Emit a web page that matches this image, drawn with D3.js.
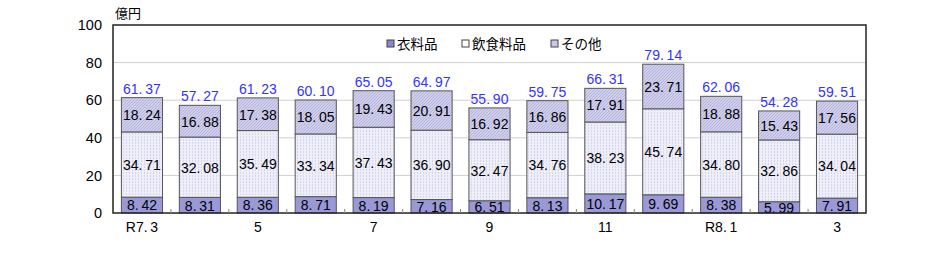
<!DOCTYPE html>
<html>
<head>
<meta charset="utf-8">
<script src="https://cdn.jsdelivr.net/npm/d3@7"></script>
<style>
  body { margin: 0; background: #fff; }
  text { font-family: "Noto Sans CJK JP", "DejaVu Sans", sans-serif; }
  .num { font-family: "Liberation Sans", Arial, sans-serif; }
</style>
</head>
<body>
<div class="chart"></div>
<script>
// months (R7.3 - R8.3)
const months = ["R7.3", "4", "5", "6", "7", "8", "9", "10", "11", "12", "R8.1", "2", "3"];
const shownLabels = ["R7.\u20093", "", "5", "", "7", "", "9", "", "11", "", "R8.\u20091", "", "3"];
const clothing = [8.42, 8.31, 8.36, 8.71, 8.19, 7.16, 6.51, 8.13, 10.17, 9.69, 8.38, 5.99, 7.91];
const food = [34.71, 32.08, 35.49, 33.34, 37.43, 36.90, 32.47, 34.76, 38.23, 45.74, 34.80, 32.86, 34.04];
const other = [18.24, 16.88, 17.38, 18.05, 19.43, 20.91, 16.92, 16.86, 17.91, 23.71, 18.88, 15.43, 17.56];
const totals = [61.37, 57.27, 61.23, 60.10, 65.05, 64.97, 55.90, 59.75, 66.31, 79.14, 62.06, 54.28, 59.51];
const yTicks = [0, 20, 40, 60, 80, 100];
const seriesNames = ["衣料品", "飲食料品", "その他"];

const W = 932, H = 253;
const margin = { top: 25, right: 66, bottom: 40, left: 113 };
const width = W - margin.left - margin.right;
const height = H - margin.top - margin.bottom;

const svg = d3.select(".chart")
    .append("svg")
    .attr("width", W)
    .attr("height", H);

// patterns
const defs = svg.append("defs");
const pDots = defs.append("pattern")
    .attr("id", "pFood").attr("patternUnits", "userSpaceOnUse")
    .attr("width", 3).attr("height", 3);
pDots.append("rect").attr("width", 3).attr("height", 3).attr("fill", "#eeeef9");
pDots.append("rect").attr("x", 1).attr("width", 1).attr("height", 2).attr("fill", "#d6d6ee");

const pHatch = defs.append("pattern")
    .attr("id", "pOther").attr("patternUnits", "userSpaceOnUse")
    .attr("width", 3).attr("height", 3);
pHatch.append("rect").attr("width", 3).attr("height", 3).attr("fill", "#cfcfec");
pHatch.append("path").attr("d", "M0,3 L3,0").attr("stroke", "#b4b4dc").attr("stroke-width", 1);

const fills = ["#9999d8", "url(#pFood)", "url(#pOther)"];
const legendFills = ["#8888cc", "#ffffff", "#c8c8e8"];

const g = svg.append("g")
    .attr("transform", `translate(${margin.left},${margin.top})`);

const xScale = d3.scaleBand()
    .domain(months)
    .range([0, width])
    .paddingInner(0.29)
    .paddingOuter(0.145);

const yScale = d3.scaleLinear()
    .domain([0, 100])
    .range([height, 0]);

// gridlines
g.selectAll(".grid")
    .data(yTicks.filter(d => d > 0 && d < 100))
    .enter()
    .append("line")
    .attr("class", "grid")
    .attr("x1", 0).attr("x2", width)
    .attr("y1", d => yScale(d)).attr("y2", d => yScale(d))
    .attr("stroke", "#d0d0d0")
    .attr("stroke-width", 1);

// y labels
g.selectAll(".y-label")
    .data(yTicks)
    .enter()
    .append("text")
    .attr("class", "y-label num")
    .attr("x", -11)
    .attr("y", d => yScale(d))
    .attr("dy", "0.36em")
    .attr("text-anchor", "end")
    .attr("font-size", 14.5)
    .attr("fill", "#000")
    .text(d => d);

svg.append("text")
    .attr("x", 115).attr("y", 18)
    .attr("font-size", 13)
    .text("億円");

// stacked bars
const stackData = months.map((m, i) => ({ month: m, clothing: clothing[i], food: food[i], other: other[i] }));
const stack = d3.stack().keys(["clothing", "food", "other"]);
const layers = stack(stackData);

const fmt = d => d.toFixed(2).replace(".", ".\u2009");

layers.forEach((layer, li) => {
    const lg = g.append("g");
    lg.selectAll("rect")
        .data(layer)
        .enter()
        .append("rect")
        .attr("x", d => xScale(d.data.month))
        .attr("y", d => yScale(d[1]))
        .attr("width", xScale.bandwidth())
        .attr("height", d => yScale(d[0]) - yScale(d[1]))
        .attr("fill", fills[li])
        .attr("stroke", "#555")
        .attr("stroke-width", 1);

    lg.selectAll("text")
        .data(layer)
        .enter()
        .append("text")
        .attr("class", "num")
        .attr("x", d => xScale(d.data.month) + xScale.bandwidth() / 2)
        .attr("y", d => (yScale(d[0]) + yScale(d[1])) / 2)
        .attr("dy", "0.38em")
        .attr("text-anchor", "middle")
        .attr("font-size", 14)
        .attr("fill", "#000")
        .text(d => fmt(d[1] - d[0]));
});

// totals
g.selectAll(".total")
    .data(totals)
    .enter()
    .append("text")
    .attr("class", "total num")
    .attr("x", (d, i) => xScale(months[i]) + xScale.bandwidth() / 2)
    .attr("y", (d, i) => yScale(d) - 4)
    .attr("text-anchor", "middle")
    .attr("font-size", 14)
    .attr("fill", "#3333ff")
    .text(d => fmt(d));

// frame
g.append("rect")
    .attr("width", width).attr("height", height)
    .attr("fill", "none")
    .attr("stroke", "#222")
    .attr("stroke-width", 1.5);

// small ticks between months
const step = xScale.step();
g.selectAll(".tick-mark")
    .data(d3.range(1, months.length))
    .enter()
    .append("line")
    .attr("x1", d => d * step).attr("x2", d => d * step)
    .attr("y1", height).attr("y2", height - 4)
    .attr("stroke", "#888");

// x labels
g.selectAll(".x-label")
    .data(months)
    .enter()
    .append("text")
    .attr("class", "x-label num")
    .attr("x", d => xScale(d) + xScale.bandwidth() / 2)
    .attr("y", height + 19)
    .attr("text-anchor", "middle")
    .attr("font-size", 14)
    .text((d, i) => shownLabels[i]);

// legend
const legendX = [387, 462, 551];
const leg = svg.append("g");
seriesNames.forEach((name, i) => {
    leg.append("rect")
        .attr("x", legendX[i]).attr("y", 40)
        .attr("width", 7).attr("height", 7)
        .attr("fill", legendFills[i])
        .attr("stroke", "#444");
    leg.append("text")
        .attr("x", legendX[i] + 10).attr("y", 44)
        .attr("dy", "0.36em")
        .attr("font-size", 13.5)
        .text(name);
});
</script>
</body>
</html>
